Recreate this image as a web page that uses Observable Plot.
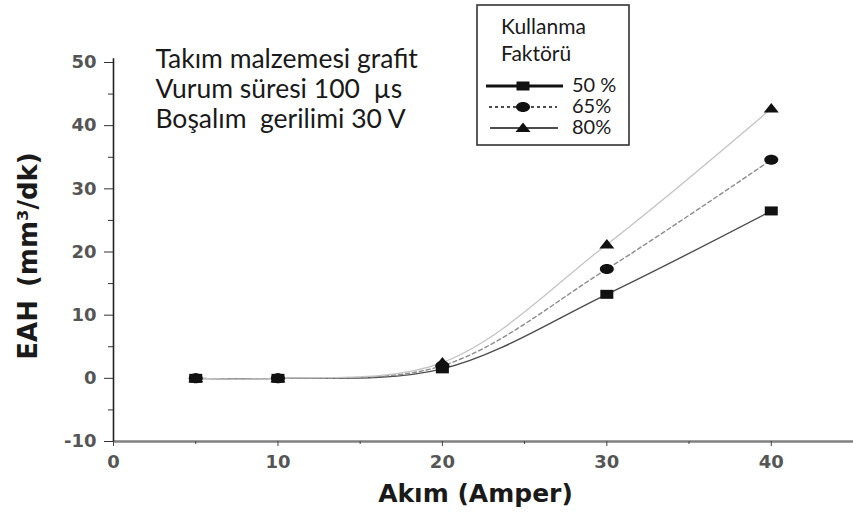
<!DOCTYPE html>
<html>
<head>
<meta charset="utf-8">
<script src="https://cdn.jsdelivr.net/npm/d3@7"></script>
<script src="https://cdn.jsdelivr.net/npm/@observablehq/plot@0.6"></script>
<style>
  body { margin: 0; background: #fff; }
  #chart { position: relative; width: 853px; height: 515px; }
</style>
</head>
<body>
<div id="chart"></div>
<script>
// Material removal rate (EAH) versus discharge current, per duty factor
const current = [5, 10, 20, 30, 40];
const factorLabels = ["50 %", "65%", "80%"];
const eah50 = [0, 0, 1.5, 13.3, 26.5];
const eah65 = [0, 0, 2.0, 17.3, 34.6];
const eah80 = [0, 0, 2.5, 21.2, 42.7];

const xTicks = [0, 10, 20, 30, 40];
const xMinor = [5, 15, 25, 35, 45];
const yTicks = [-10, 0, 10, 20, 30, 40, 50];
const yMinor = [-5, 5, 15, 25, 35, 45];

const notes = ["Takım malzemesi grafit", "Vurum süresi 100  µs", "Boşalım  gerilimi 30 V"];
const noteX = [2.55, 2.55, 2.55];
const noteY = [50.5, 45.7, 40.9];

const legendTitle = ["Kullanma", "Faktörü"];

// Slightly wide marker shapes
const squareSym = { draw(ctx) { ctx.rect(-6.5, -4.5, 13, 9); } };
const ellipseSym = {
  draw(ctx) {
    const a = 7, b = 5, k = 0.5523;
    ctx.moveTo(a, 0);
    ctx.bezierCurveTo(a, b * k, a * k, b, 0, b);
    ctx.bezierCurveTo(-a * k, b, -a, b * k, -a, 0);
    ctx.bezierCurveTo(-a, -b * k, -a * k, -b, 0, -b);
    ctx.bezierCurveTo(a * k, -b, a, -b * k, a, 0);
    ctx.closePath();
  }
};
const triangleSym = {
  draw(ctx) { ctx.moveTo(0, -5.5); ctx.lineTo(7.5, 4); ctx.lineTo(-7.5, 4); ctx.closePath(); }
};

const series = [
  { values: eah50, stroke: "#4d4d4d", dash: null, width: 1.4, symbol: squareSym },
  { values: eah65, stroke: "#8c8c8c", dash: "4,3", width: 1.4, symbol: ellipseSym },
  { values: eah80, stroke: "#c4c4c4", dash: null, width: 1.3, symbol: triangleSym }
];
const rowsOf = (vals) => current.map((x, i) => ({ x, y: vals[i] }));
const plain = (d) => String(d);

const marks = [];
// axis lines
marks.push(Plot.ruleY([-10], { x1: 0, x2: 45, stroke: "#808080", strokeWidth: 2.4 }));
marks.push(Plot.ruleX([0], { y1: -10, y2: 50.6, stroke: "#222", strokeWidth: 1.6 }));
// y axis ticks and labels
marks.push(Plot.axisY(yTicks, {
  tickSize: 9, tickPadding: 8, stroke: "#333", fill: "#555", tickFormat: plain,
  fontSize: 18, fontWeight: "bold", fontFamily: "DejaVu Sans", label: null
}));
marks.push(Plot.axisY(yMinor, { tickSize: 5, stroke: "#333", tickFormat: () => "", label: null }));
// x axis ticks and labels
marks.push(Plot.axisX(xTicks, {
  tickSize: 5, tickPadding: 9, stroke: "#444", fill: "#555", tickFormat: plain,
  fontSize: 18, fontWeight: "bold", fontFamily: "DejaVu Sans", label: null
}));
marks.push(Plot.axisX(xMinor, { tickSize: 3, stroke: "#444", tickFormat: () => "", label: null }));

// curves, then markers
for (const s of series) {
  marks.push(Plot.line(rowsOf(s.values), {
    x: "x", y: "y", curve: "catmull-rom",
    stroke: s.stroke, strokeWidth: s.width, strokeDasharray: s.dash
  }));
}
for (const s of series) {
  marks.push(Plot.dot(rowsOf(s.values), { x: "x", y: "y", symbol: s.symbol, r: 5, fill: "#111", stroke: "none" }));
}

// process-condition notes
marks.push(Plot.text(notes, {
  x: (d, i) => noteX[i], y: (d, i) => noteY[i], text: (d) => d,
  textAnchor: "start", lineAnchor: "middle",
  fontFamily: "Lato", fontSize: 26.5, fill: "#1a1a1a"
}));

// axis titles
marks.push(Plot.text(["Akım (Amper)"], {
  frameAnchor: "bottom", dx: -8, dy: 52, text: (d) => d,
  textAnchor: "middle", lineAnchor: "middle",
  fontFamily: "DejaVu Sans", fontWeight: "bold", fontSize: 25, fill: "#1a1a1a"
}));
marks.push(Plot.text(["EAH\u2002(mm³/dk)"], {
  frameAnchor: "left", dx: -85, dy: 4, rotate: -90, text: (d) => d,
  textAnchor: "middle", lineAnchor: "middle",
  fontFamily: "DejaVu Sans", fontWeight: "bold", fontSize: 26, fill: "#1a1a1a"
}));

const chart = Plot.plot({
  width: 853,
  height: 515,
  marginLeft: 113,
  marginRight: 0,
  marginTop: 62,
  marginBottom: 74,
  x: { domain: [0, 45] },
  y: { domain: [-10, 50] },
  style: { background: "#fff", overflow: "visible" },
  marks
});
document.getElementById("chart").appendChild(chart);

// legend box
const svg = d3.select(chart);
const lg = svg.append("g").attr("font-family", "Lato").attr("fill", "#1a1a1a").attr("text-anchor", "start");
lg.append("rect").attr("x", 477).attr("y", 5).attr("width", 152).attr("height", 140)
  .attr("fill", "#fff").attr("stroke", "#333").attr("stroke-width", 1.6);
legendTitle.forEach((t, i) => {
  lg.append("text").attr("x", 501).attr("y", 34 + i * 27).attr("font-size", 21).text(t);
});
const legendStyles = [
  { x1: 486, x2: 563, w: 3, dash: null },
  { x1: 489, x2: 557, w: 1.5, dash: "3,3" },
  { x1: 490, x2: 558, w: 1.5, dash: null }
];
series.forEach((s, i) => {
  const y = 86 + i * 21;
  const st = legendStyles[i];
  lg.append("line").attr("x1", st.x1).attr("x2", st.x2).attr("y1", y).attr("y2", y)
    .attr("stroke", "#111").attr("stroke-width", st.w).attr("stroke-dasharray", st.dash);
  lg.append("path").attr("transform", `translate(523,${y})`)
    .attr("d", d3.symbol(s.symbol)()).attr("fill", "#111");
  lg.append("text").attr("x", 572).attr("y", y + 6).attr("font-size", 20).text(factorLabels[i]);
});
</script>
</body>
</html>
